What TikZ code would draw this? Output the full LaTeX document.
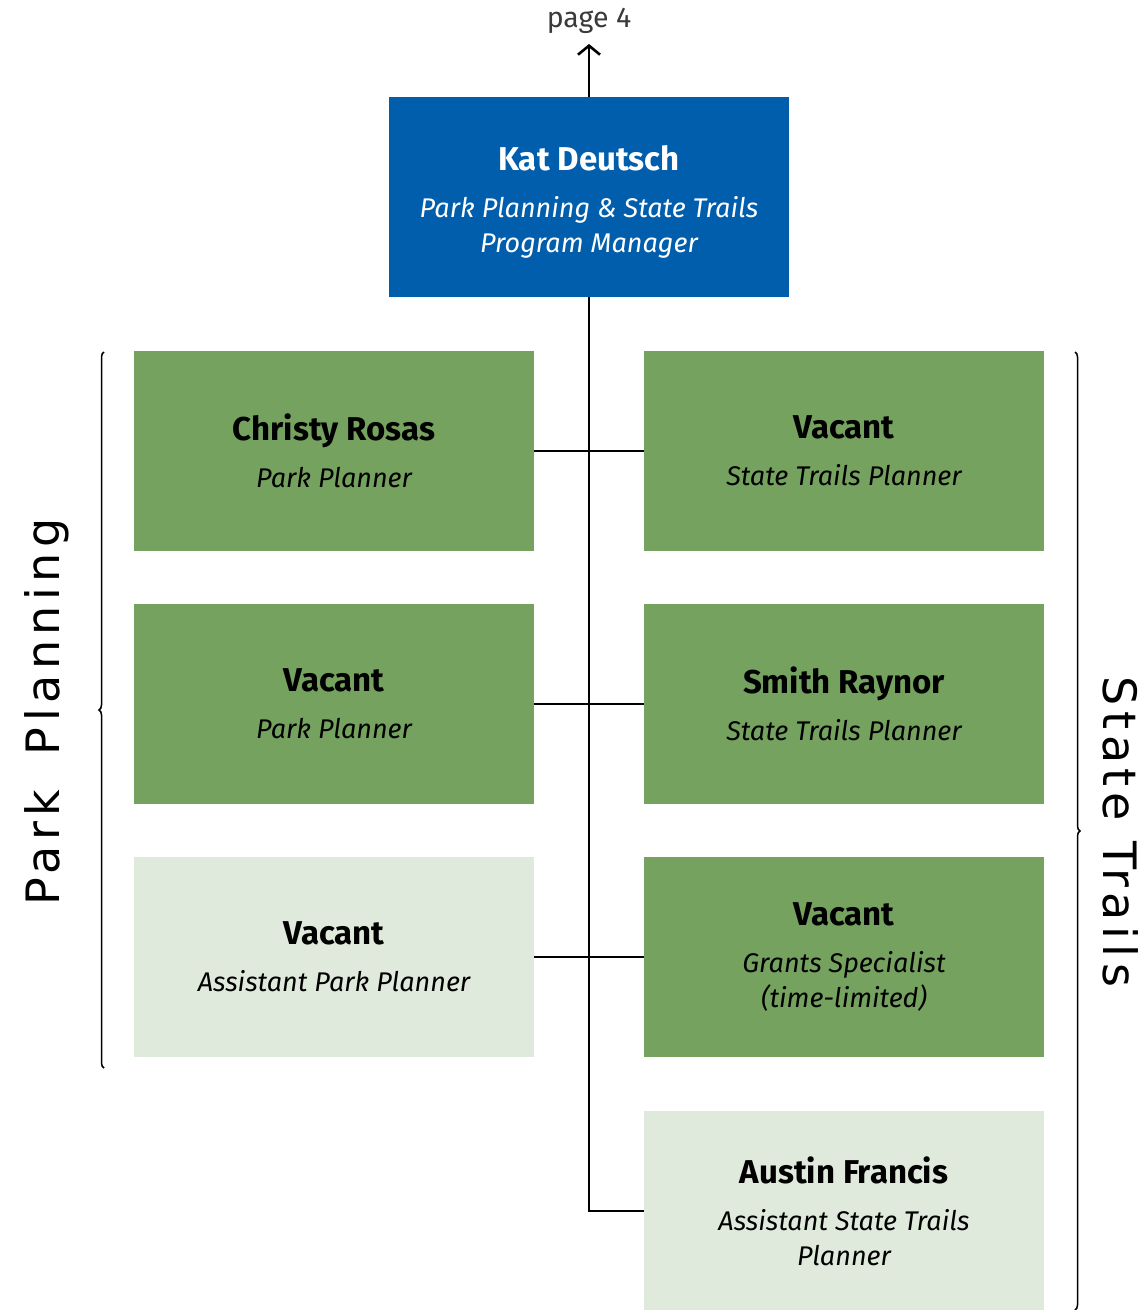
\documentclass[tikz,border=0pt]{standalone}
\usepackage{fontspec}
\setmainfont{Fira Sans}
\newfontfamily\sidefont[LetterSpace=12]{DejaVu Sans}
\usetikzlibrary{decorations.pathreplacing,arrows.meta}
\definecolor{mgrblue}{HTML}{005EAD}
\definecolor{mgrgreen}{HTML}{75A25E}
\definecolor{mgrlight}{HTML}{E0EADC}
\definecolor{pagegray}{HTML}{3A3A3A}
\newcommand\cardtext[2]{{\fontsize{33}{36}\selectfont\upshape\bfseries #1}\\[12pt]#2}
\tikzset{
  card/.style={rectangle, minimum width=400pt, minimum height=200pt, inner sep=0pt, outer sep=0pt, align=center, anchor=north west,
    font=\fontsize{27}{35}\selectfont\itshape},
  greencard/.style={card, fill=mgrgreen, text=black},
  lightcard/.style={card, fill=mgrlight, text=black},
  bluecard/.style={card, fill=mgrblue, text=white},
  cardlabel/.style={inner sep=0pt, align=center, font=\fontsize{27}{35}\selectfont\itshape},
  conn/.style={draw=black, line width=2.6pt},
  bracestyle/.style={draw=black, line width=1.5pt, decorate, decoration={brace, amplitude=5pt}},
  sidelabel/.style={inner sep=0pt, font=\sidefont\fontsize{46}{50}\selectfont},
}
\begin{document}
\begin{tikzpicture}[x=1pt,y=-1pt]
\useasboundingbox (0,0) rectangle (1147,1310);
% boxes
\node[bluecard] (mgr) at (389,97) {};
\node[cardlabel, text=white, yshift=-5pt] (mgrtext) at (mgr.center) {\cardtext{Kat Deutsch}{Park Planning \& State Trails\\Program Manager}};
\node[greencard] (l1) at (134,351) {\cardtext{Christy Rosas}{Park Planner}};
\node[greencard] (l2) at (134,604) {\cardtext{Vacant}{Park Planner}};
\node[lightcard] (l3) at (134,857) {\cardtext{Vacant}{Assistant Park Planner}};
\node[greencard] (r1) at (644,351) {\cardtext{Vacant}{State Trails Planner}};
\node[greencard] (r2) at (644,604) {\cardtext{Smith Raynor}{State Trails Planner}};
\node[greencard] (r3) at (644,857) {\cardtext{Vacant}{Grants Specialist\\(time-limited)}};
\node[lightcard] (r4) at (644,1111) {\cardtext{Austin Francis}{Assistant State Trails\\Planner}};
% page label
\node[inner sep=0pt, text=pagegray, font=\fontsize{28.5}{30}\selectfont] (page) at (589,21) {page 4};
\coordinate (arrowtip) at (mgr.north |- 0,44);
\draw[conn, -{Straight Barb[length=9pt,width=22pt]}] (mgr.north) -- (arrowtip);
% trunk
\coordinate (bend) at (mgr.south |- r4.west);
\draw[conn] (mgr.south) -- (bend) -- (r4.west);
\draw[conn] (l1.east) -- (r1.west);
\draw[conn] (l2.east) -- (r2.west);
\draw[conn] (l3.east) -- (r3.west);
% braces
\coordinate (lbb) at (104,1068);
\coordinate (lbt) at (104,352);
\draw[bracestyle] (lbb) -- (lbt);
\coordinate (rbt) at (1075,352);
\coordinate (rbb) at (1075,1310);
\draw[bracestyle] (rbt) -- (rbb);
% side labels
\node[sidelabel, rotate=90] (pp) at (47,712) {Park\hspace{0.75em}Planning};
\node[sidelabel, rotate=-90] (st) at (1121,832) {State\hspace{0.45em}Trails};
\end{tikzpicture}
\end{document}
